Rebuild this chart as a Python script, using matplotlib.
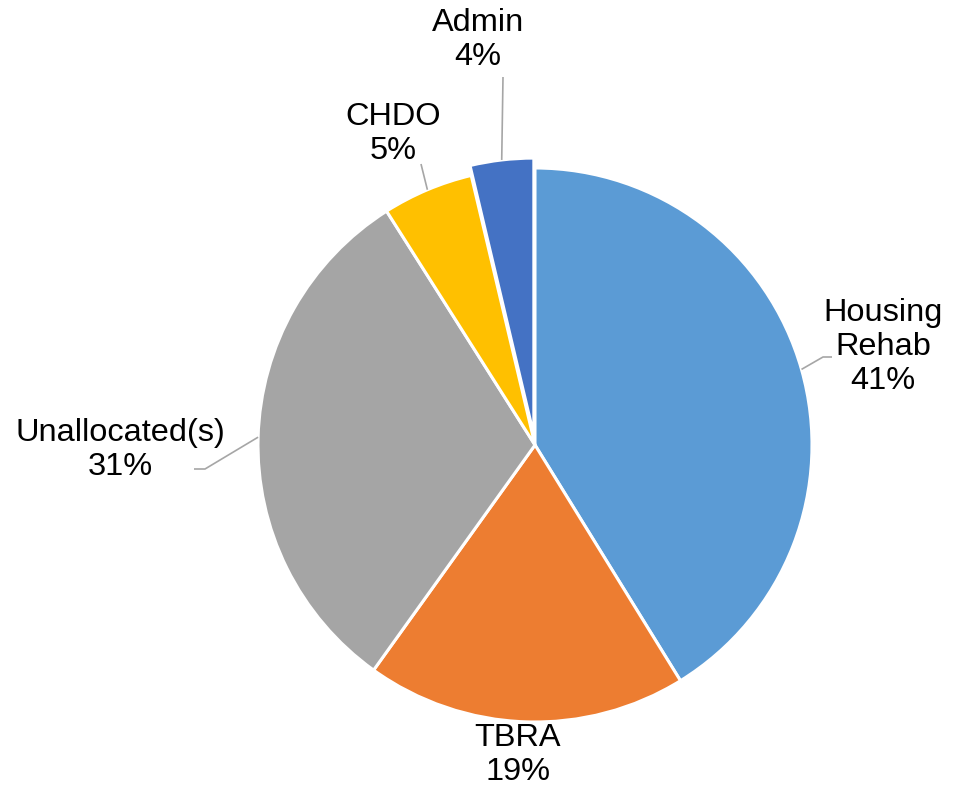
import matplotlib
matplotlib.use("Agg")
import matplotlib.pyplot as plt
import numpy as np

plt.rcParams['font.family'] = ['Liberation Sans', 'DejaVu Sans']

categories = ["Housing Rehab", "TBRA", "Unallocated(s)", "CHDO", "Admin"]
values = [41.2, 18.7, 31.1, 5.3, 3.7]
pct_labels = ["41%", "19%", "31%", "5%", "4%"]
colors = ["#5B9BD5", "#ED7D31", "#A5A5A5", "#FFC000", "#4472C4"]
explode = [0, 0, 0, 0, 0.036]

W, H = 956, 786
cx, cy, R = 535, 445, 277

fig = plt.figure(figsize=(W / 100, H / 100), dpi=100)
ax = fig.add_axes([0, 0, 1, 1])
wedges, _ = ax.pie(values, colors=colors, startangle=90, counterclock=False,
                   explode=explode, radius=1,
                   wedgeprops=dict(edgecolor="white", linewidth=2.2))
ax.set_xlim(-cx / R, (W - cx) / R)
ax.set_ylim(-(H - cy) / R, cy / R)
ax.set_aspect('auto')
ax.axis('off')

def px(x, y):
    return ((x - cx) / R, (cy - y) / R)

# label placement (pixel coords of label centers), leader line elbows
label_pos = {
    "Housing Rehab": (883, 347),
    "TBRA": (518, 755),
    "Unallocated(s)": (120, 450),
    "CHDO": (393, 134),
    "Admin": (478, 40),
}
leader = {
    "Housing Rehab": [(823, 357), (832, 357)],
    "Unallocated(s)": [(205, 469), (194, 469)],
    "CHDO": [(421, 164)],
    "Admin": [(503, 77)],
}

for w, cat, pl, ex in zip(wedges, categories, pct_labels, explode):
    ang = np.deg2rad((w.theta1 + w.theta2) / 2)
    r = 1 + ex
    start = (r * np.cos(ang), r * np.sin(ang))
    if cat in leader:
        pts = [start] + [px(*p) for p in leader[cat]]
        xs, ys = zip(*pts)
        ax.plot(xs, ys, color="#A6A6A6", lw=1.2, solid_capstyle="butt")
    text = cat.replace(" ", "\n") + "\n" + pl
    lx, ly = px(*label_pos[cat])
    ax.text(lx, ly, text, ha="center", va="center", fontsize=23.4,
            linespacing=1.16, color="black")

fig.savefig("out.png", dpi=100)
